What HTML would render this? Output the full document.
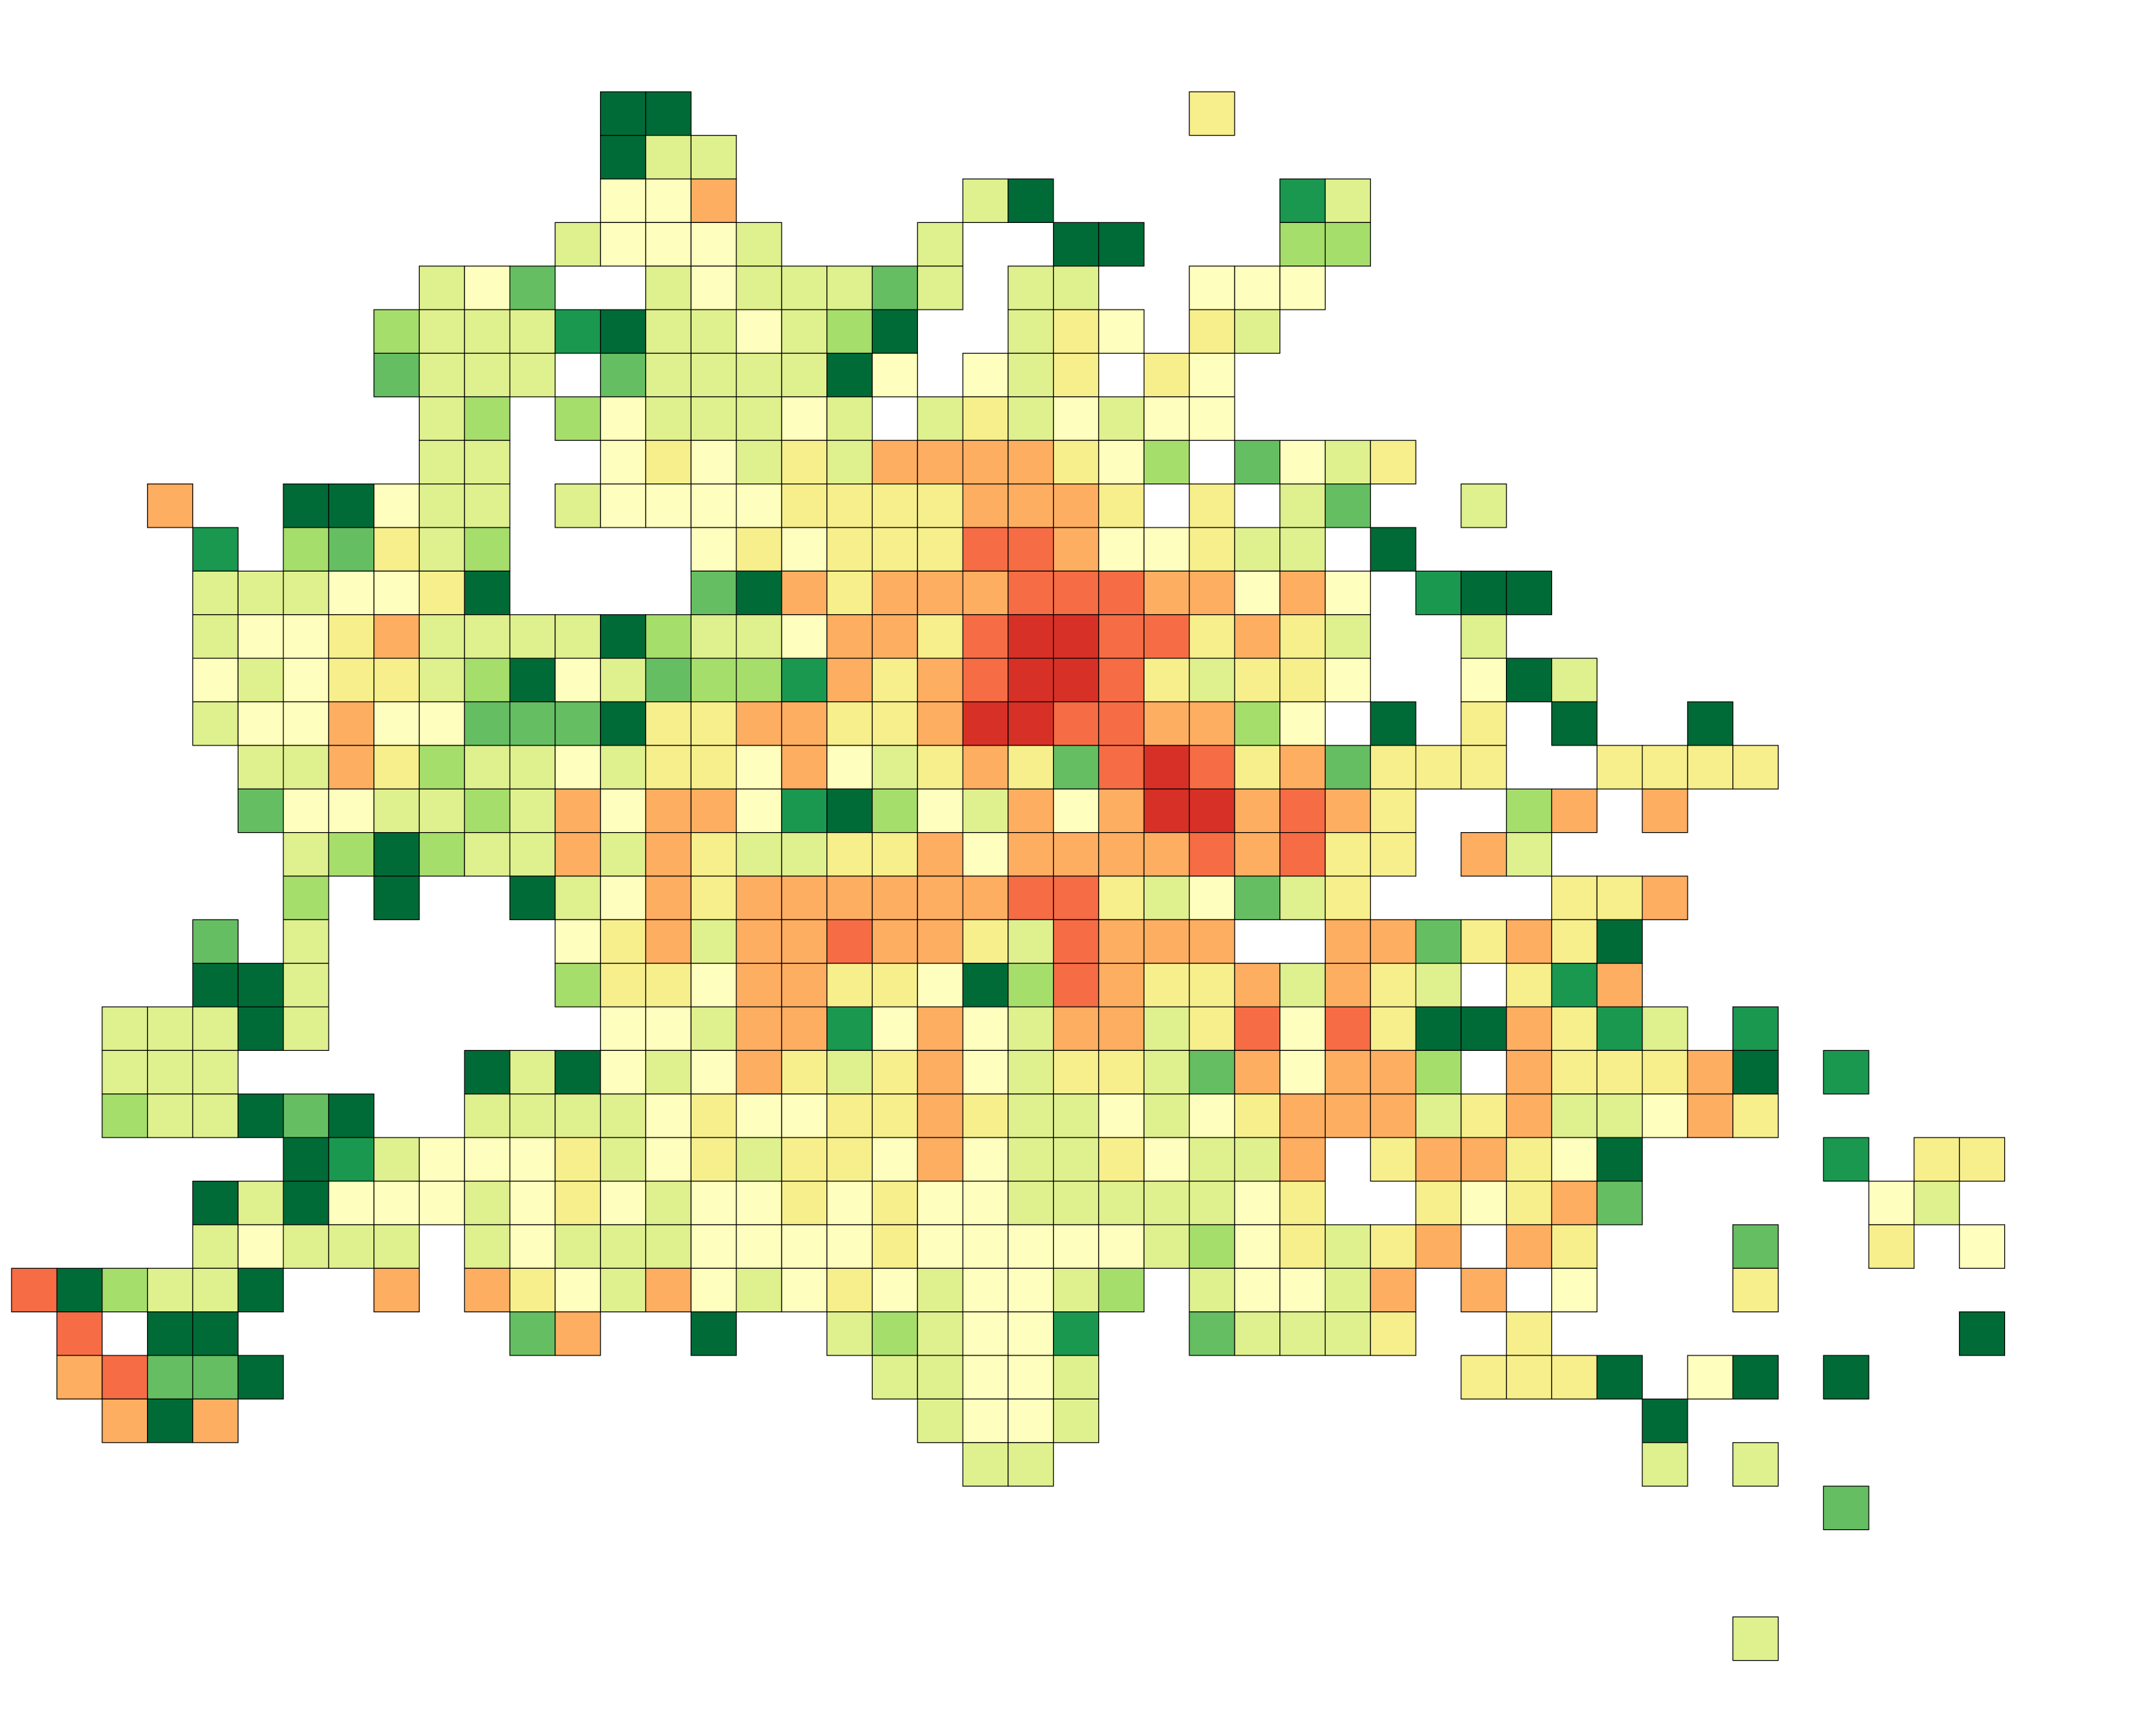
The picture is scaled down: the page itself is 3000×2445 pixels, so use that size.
<!DOCTYPE html>
<html><head><meta charset="utf-8"><title>Heatmap grid</title>
<style>html,body{margin:0;padding:0;background:#fff}svg{display:block}</style></head>
<body>
<svg id="chart" width="3000" height="2445" viewBox="0 0 3000 2445" xmlns="http://www.w3.org/2000/svg">
<rect x="0" y="0" width="3000" height="2445" fill="#ffffff"/>
<g id="cells"></g>
</svg>
<script>
// Each string is one grid row; each character is a value level (a=highest .. j=lowest), "." = no data
const rows = [
".............jj...........d",
".............jff",
".............eec.....fj.....if",
"............feeef...f..jj...gg",
".........feh..fefffhf.ff..eee",
"........gfffijffefgj..fde.df",
"........hfff.hffffje.efd.de",
".........fg.gefffef.fdfefee",
".........ff..edefdfccccdeg.hefd",
"...c..jjeff.feeeeddddcccd.d.fh..f",
"....i.ghdfg....ededddbbceedff.j",
"....fffeedj....hjcdcccbbbccece.ijj",
"....feedcffffjgffeccdbaabbdcdf..f",
"....efeddfgjefhggicdcbaabdfdde..ejf",
"....feeceehhhjddccddcaabbccge.j.d.j..j",
".....ffcdgffefddecefdcdhbabdchddd..dddd",
".....heeffgfcecceijgefcecaacbcd..gc.c",
"......fgjgffcfcdffddceccccbcbdd.cf",
"......g.j..jfecdccccccbbdfehfd....ddc",
"....h.f.....edcfccbccdfbccc..cchdcdj",
"....jjf.....gddeccddejgbcddcfcdf.dic",
"..fffjf......eefcciecefccfdbebdjjcdif.i",
"..fff.....jfjefecdfdcefddfhceccg.cdddcj.i",
"..gffjhj..ffffedeeddcdffefedcccfdcffecd",
"......jifeeedfedfddeceffdeffc.dccdej....i.dd",
"....jfjeeefedefeededeefffffed..dedch.....ef",
"....fefff.fefffeeeedeeeeefgedfdc.cd...h..d.e",
"bjgffj..c.cdefcefedefeefg.feefc.c.e...d",
".b.jj......hc..j..fgfeei..hfffd..d.........j",
".cbhhj.............ffeef........dddj.ej.j",
"..cjc...............feef............j",
".....................ff.............f.f",
"........................................h",
"",
"",
"......................................f"
];
const levels = ["a","b","c","d","e","f","g","h","i","j"];
const levelColors = ["#d73027","#f66c45","#fdae61","#f7ef8c","#fefebe","#dff08e","#a6de6c","#66be63","#1a9850","#006b37"];

const x0 = 16.3, y0 = 129.3, cw = 63.8, ch = 61.37;
function xScale(col){ return x0 + col*cw; }
function yScale(row){ return y0 + row*ch; }
const g = document.getElementById('cells');
const NS = "http://www.w3.org/2000/svg";
rows.forEach((line, r) => {
  for (let c = 0; c < line.length; c++) {
    const v = line[c];
    const li = levels.indexOf(v);
    if (li < 0) continue;
    const rect = document.createElementNS(NS, 'rect');
    rect.setAttribute('x', xScale(c).toFixed(2));
    rect.setAttribute('y', yScale(r).toFixed(2));
    rect.setAttribute('width', cw.toFixed(2));
    rect.setAttribute('height', ch.toFixed(2));
    rect.setAttribute('fill', levelColors[li]);
    rect.setAttribute('stroke', '#000');
    rect.setAttribute('stroke-width', '1.2');
    
    
    g.appendChild(rect);
  }
});
</script>
</body></html>
